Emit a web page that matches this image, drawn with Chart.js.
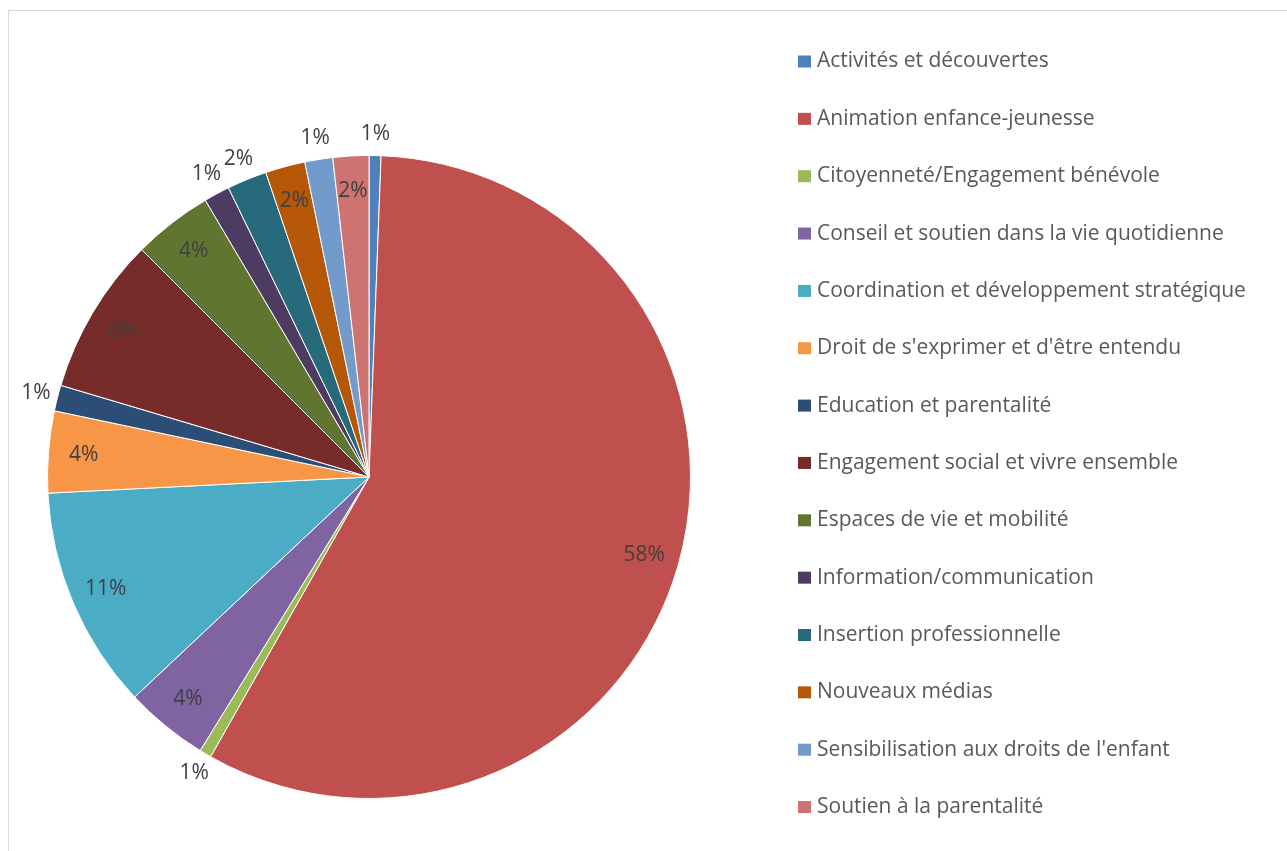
<!DOCTYPE html>
<html>
<head>
<meta charset="utf-8">
<script src="https://cdn.jsdelivr.net/npm/chart.js@4.4.1/dist/chart.umd.min.js"></script>
<style>
  html, body { margin: 0; padding: 0; background: #fff; overflow: hidden; }
  #frame { position: absolute; left: 8px; top: 10px; width: 1300px; height: 860px; border: 1.5px solid #d9d9d9; }
  #wrap { position: absolute; left: 0; top: 0; width: 1287px; height: 851px; }
</style>
</head>
<body>
<div id="frame"></div>
<div id="wrap"><canvas id="pieChart"></canvas></div>
<script>
const categories = [
  'Activités et découvertes',
  'Animation enfance-jeunesse',
  'Citoyenneté/Engagement bénévole',
  'Conseil et soutien dans la vie quotidienne',
  'Coordination et développement stratégique',
  "Droit de s'exprimer et d'être entendu",
  'Education et parentalité',
  'Engagement social et vivre ensemble',
  'Espaces de vie et mobilité',
  'Information/communication',
  'Insertion professionnelle',
  'Nouveaux médias',
  "Sensibilisation aux droits de l'enfant",
  'Soutien à la parentalité'
];
const shares = [0.6, 57.6, 0.6, 4.2, 11.2, 4.1, 1.3, 7.9, 4.0, 1.3, 2.0, 2.0, 1.4, 1.8];
const colors = ['#4F81BD', '#C0504D', '#9BBB59', '#8064A2', '#4BACC6', '#F79646', '#2C4D75',
  '#772C2A', '#5F7530', '#4D3B62', '#276A7C', '#B65708', '#729ACA', '#CD7371'];
// slices whose percent label sits outside the pie
const outsideLabels = [0, 2, 6, 9, 10, 12];

const total = shares.reduce((a, b) => a + b, 0);

const sliceLabels = {
  id: 'sliceLabels',
  afterDatasetsDraw(chart) {
    const ctx = chart.ctx;
    ctx.save();
    ctx.font = '21px "Open Sans"';
    ctx.fillStyle = '#404040';
    ctx.textAlign = 'center';
    ctx.textBaseline = 'middle';
    chart.getDatasetMeta(0).data.forEach((arc, i) => {
      const p = arc.getProps(['x', 'y', 'startAngle', 'endAngle', 'outerRadius'], true);
      const mid = (p.startAngle + p.endAngle) / 2;
      const r = outsideLabels.includes(i) ? p.outerRadius + 22 : p.outerRadius * 0.89;
      const txt = Math.round(shares[i] / total * 100) + '%';
      ctx.fillText(txt, p.x + Math.cos(mid) * r, p.y + Math.sin(mid) * r);
    });
    ctx.restore();
  }
};

const sideLegend = {
  id: 'sideLegend',
  afterDraw(chart) {
    const ctx = chart.ctx;
    ctx.save();
    ctx.font = '21px "Open Sans"';
    ctx.textBaseline = 'middle';
    chart.data.labels.forEach((label, i) => {
      const y = 61.5 + i * 57.35;
      ctx.fillStyle = chart.data.datasets[0].backgroundColor[i];
      ctx.fillRect(798, y - 6, 13, 12);
      ctx.fillStyle = '#595959';
      ctx.fillText(label, 817, y);
    });
    ctx.restore();
  }
};

new Chart(document.getElementById('pieChart'), {
  type: 'pie',
  data: {
    labels: categories,
    datasets: [{
      data: shares,
      backgroundColor: colors,
      borderColor: '#ffffff',
      borderWidth: 1
    }]
  },
  options: {
    responsive: true,
    maintainAspectRatio: false,
    animation: false,
    layout: { padding: { left: 47, right: 596, top: 155, bottom: 52 } },
    plugins: {
      legend: { display: false },
      tooltip: { enabled: false }
    }
  },
  plugins: [sliceLabels, sideLegend]
});
</script>
</body>
</html>
